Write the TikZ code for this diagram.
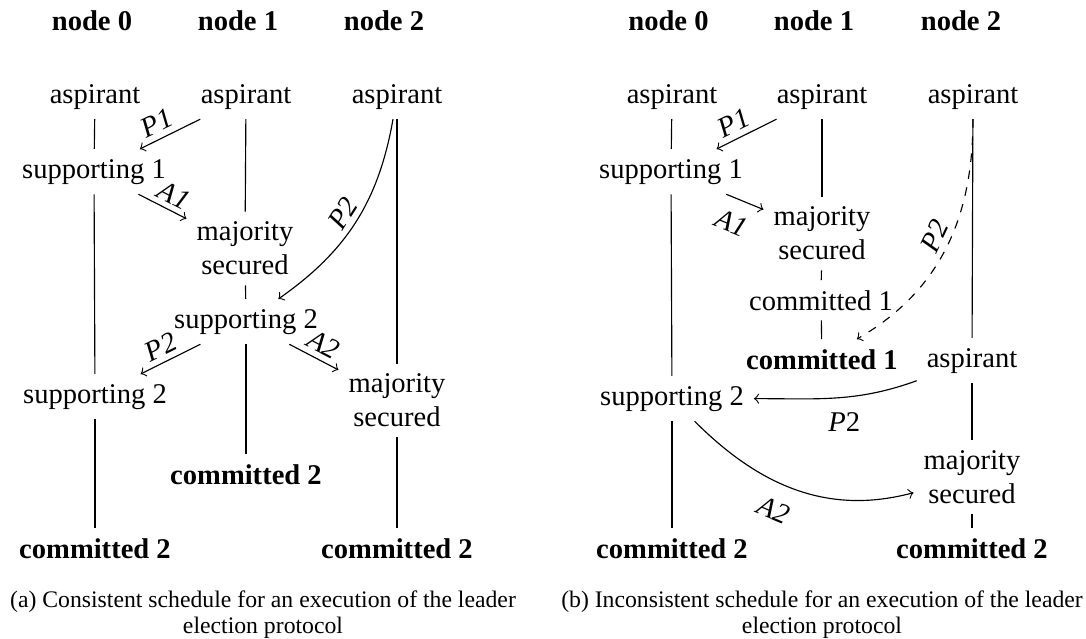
\documentclass[tikz,border=0pt]{standalone}
\usepackage{fontspec}
\setmainfont{Liberation Serif}
\begin{document}
\begin{tikzpicture}[x=0.35pt,y=0.35pt,
  st/.style={anchor=base},
  two/.style={align=center,anchor=center},
  hdr/.style={anchor=base,font=\bfseries},
  fin/.style={anchor=base,font=\bfseries},
  msg/.style={font=\itshape,inner sep=2pt},
  captxt/.style={align=center,inner sep=0pt,font=\fontsize{8.3}{9}\selectfont},
  lane/.style={draw},
  msgline/.style={->}]
\path[use as bounding box] (0,0) rectangle (1086,-639);

% ---------- schedule (a) ----------
\node[hdr] (ha0) at (92,-30)  {node 0};
\node[hdr] (ha1) at (238,-30) {node 1};
\node[hdr] (ha2) at (384,-30) {node 2};

\node[st] (a0) at (95,-103)  {aspirant};
\node[st] (a1) at (246,-103) {aspirant};
\node[st] (a2) at (397,-103) {aspirant};

\node[st]  (s01) at (94,-178)     {supporting 1};
\node[two] (m1)  at (245,-248.5)  {majority\\secured};
\node[st]  (s12) at (246,-328)    {supporting 2};
\node[st]  (s02) at (95,-403)     {supporting 2};
\node[two] (m2)  at (397,-400.5)  {majority\\secured};
\node[fin] (c1)  at (246,-484)    {committed 2};
\node[fin] (c0)  at (95,-558)     {committed 2};
\node[fin] (c2)  at (397,-558)    {committed 2};

% process lanes
\draw[lane] (a0) -- (s01);
\draw[lane] (s01) -- (s02);
\draw[lane] (s02) -- (c0);
\draw[lane] (a1) -- (m1);
\draw[lane] (m1) -- (s12);
\draw[lane] (s12) -- (c1);
\draw[lane] (a2) -- (m2);
\draw[lane] (m2) -- (c2);

% messages
\draw[msgline] (a1) -- node[msg,sloped,above,pos=0.6] {P1} (s01);
\draw[msgline] (s01) -- node[msg,sloped,above,pos=0.6] {A1} (m1);
\draw[msgline] (a2) to[out=-100,in=35] node[msg,sloped,above,pos=0.5] {P2} (s12);
\draw[msgline] (s12) -- node[msg,sloped,above,pos=0.55] {P2} (s02);
\draw[msgline] (s12) -- node[msg,sloped,above,pos=0.55] {A2} (m2);

\node[captxt] (capa) at (263,-615) {(a) Consistent schedule for an execution of the leader\\election protocol};

% ---------- schedule (b) ----------
\node[hdr] (hb0) at (668.5,-30) {node 0};
\node[hdr] (hb1) at (814,-30)   {node 1};
\node[hdr] (hb2) at (961,-30)   {node 2};

\node[st] (b0) at (672,-103) {aspirant};
\node[st] (b1) at (822,-103) {aspirant};
\node[st] (b2) at (973,-103) {aspirant};

\node[st]  (bs1)  at (671,-178)    {supporting 1};
\node[two] (bm1)  at (822,-233.5)  {majority\\secured};
\node[st]  (bc1)  at (821,-310)    {committed 1};
\node[fin] (bc1f) at (822,-369)    {committed 1};
\node[st]  (bb2)  at (972,-367)    {aspirant};
\node[st]  (bs2)  at (672,-405)    {supporting 2};
\node[two] (bm2)  at (972,-477)    {majority\\secured};
\node[fin] (bc0)  at (672,-558)    {committed 2};
\node[fin] (bc2)  at (972,-558)    {committed 2};

% process lanes
\draw[lane] (b0) -- (bs1);
\draw[lane] (bs1) -- (bs2);
\draw[lane] (bs2) -- (bc0);
\draw[lane] (b1) -- (bm1);
\draw[lane] (bm1) -- (bc1);
\draw[lane] (bc1) -- (bc1f);
\draw[lane] (b2) -- (bb2);
\draw[lane] (bb2) -- (bm2);
\draw[lane] (bm2) -- (bc2);

% messages
\draw[msgline] (b1) -- node[msg,sloped,above,pos=0.6] {P1} (bs1);
\draw[msgline] (bs1) -- node[msg,sloped,below=3pt,pos=0.4] {A1} (bm1);
\draw[msgline,dashed] (b2) to[out=-90,in=30] node[msg,sloped,above,pos=0.48] {P2} (bc1f);
\draw[msgline] (bb2) to[out=200,in=0] node[inner sep=2pt,below=3pt,pos=0.45] {\textit{P}2} (bs2);
\draw[msgline] (bs2) to[out=-45,in=195] node[msg,sloped,below=4pt,pos=0.45] {A2} (bm2);

\node[captxt] (capb) at (822,-615) {(b) Inconsistent schedule for an execution of the leader\\election protocol};
\end{tikzpicture}
\end{document}
